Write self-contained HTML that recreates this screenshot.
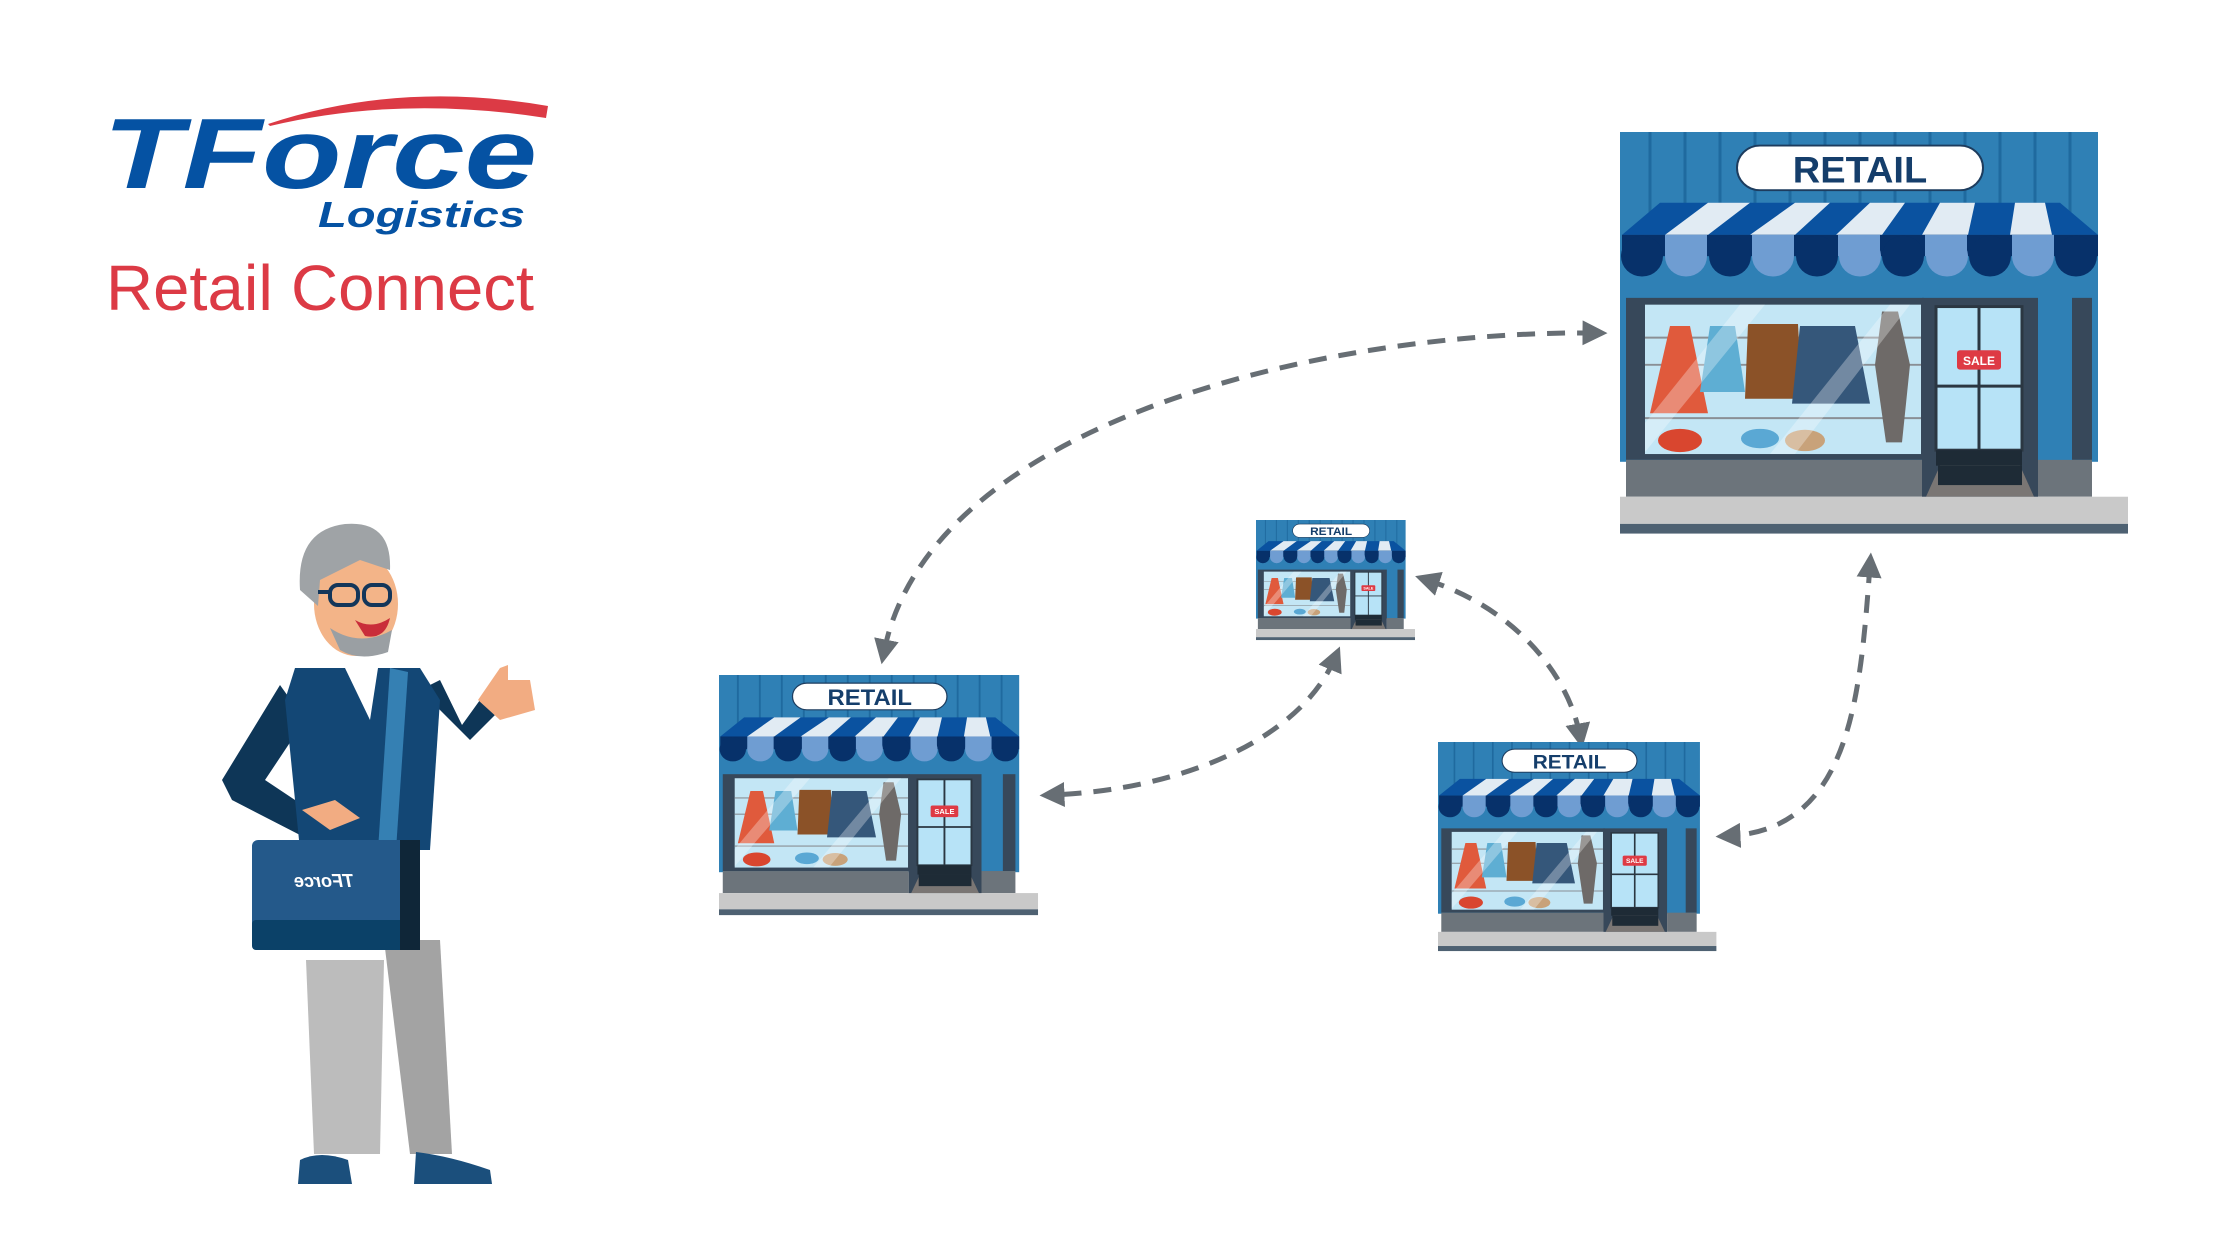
<!DOCTYPE html>
<html><head><meta charset="utf-8"><style>html,body{margin:0;padding:0;background:#fff}svg{display:block}</style></head>
<body>
<svg width="2240" height="1260" viewBox="0 0 2240 1260" xmlns="http://www.w3.org/2000/svg">
<defs>
<marker id="ah" viewBox="0 0 10 10" refX="5" refY="5" markerWidth="5" markerHeight="5" orient="auto-start-reverse" markerUnits="strokeWidth">
<path d="M0,0 L10,5 L0,10 Z" fill="#676e74"/></marker>
<g id="store">
<rect x="0" y="0" width="478" height="340" fill="#2f80b5"/>
<g stroke="#1f6a9f" stroke-width="3"><line x1="30" y1="0" x2="30" y2="100"/><line x1="65" y1="0" x2="65" y2="100"/><line x1="100" y1="0" x2="100" y2="100"/><line x1="135" y1="0" x2="135" y2="100"/><line x1="170" y1="0" x2="170" y2="100"/><line x1="205" y1="0" x2="205" y2="100"/><line x1="240" y1="0" x2="240" y2="100"/><line x1="275" y1="0" x2="275" y2="100"/><line x1="310" y1="0" x2="310" y2="100"/><line x1="345" y1="0" x2="345" y2="100"/><line x1="380" y1="0" x2="380" y2="100"/><line x1="415" y1="0" x2="415" y2="100"/><line x1="450" y1="0" x2="450" y2="100"/></g>
<rect x="117" y="14" width="246" height="46" rx="23" fill="#fff" stroke="#1d3c5e" stroke-width="2"/>
<path d="M40,73 L440,73 L478,106 L2,106 Z" fill="#0a52a0"/>
<path d="M88,73 L130,73 L88,106 L45,106Z M175,73 L210,73 L175,106 L130,106Z M250,73 L285,73 L262,106 L216,106Z M320,73 L355,73 L348,106 L302,106Z M395,73 L425,73 L432,106 L390,106Z" fill="#e1ebf3"/>
<rect x="2" y="106" width="476" height="22" fill="#07316a"/>
<g fill="#07316a"><circle cx="22" cy="128" r="21"/><circle cx="110" cy="128" r="21"/><circle cx="197" cy="128" r="21"/><circle cx="283" cy="128" r="21"/><circle cx="370" cy="128" r="21"/><circle cx="456" cy="128" r="21"/></g>
<g fill="#6f9dd2"><rect x="45" y="106" width="42" height="22"/><circle cx="66" cy="128" r="21"/><rect x="132" y="106" width="42" height="22"/><circle cx="153" cy="128" r="21"/><rect x="218" y="106" width="42" height="22"/><circle cx="240" cy="128" r="21"/><rect x="305" y="106" width="42" height="22"/><circle cx="327" cy="128" r="21"/><rect x="392" y="106" width="42" height="22"/><circle cx="413" cy="128" r="21"/></g>
<rect x="6" y="171" width="298" height="167" fill="#37485a"/>
<rect x="25" y="178" width="276" height="154" fill="#c3e6f5"/>
<g stroke="#8a8f95" stroke-width="2"><line x1="25" y1="212" x2="301" y2="212"/><line x1="25" y1="240" x2="301" y2="240"/><line x1="25" y1="295" x2="301" y2="295"/></g>
<path d="M50,200 L70,200 L88,290 L30,290Z" fill="#e05a3c"/>
<path d="M90,200 L115,200 L125,268 L80,268Z" fill="#5eaed3"/>
<path d="M128,198 L178,198 L182,275 L125,275Z" fill="#8b5228"/>
<path d="M180,200 L235,200 L250,280 L172,280Z" fill="#35577a"/>
<path d="M262,185 L278,185 L290,240 L282,320 L266,320 L255,240Z" fill="#6e6a68"/>
<ellipse cx="60" cy="318" rx="22" ry="12" fill="#d9462f"/><ellipse cx="140" cy="316" rx="19" ry="10" fill="#5aa8d4"/><ellipse cx="185" cy="318" rx="20" ry="11" fill="#c8a27a"/>
<path d="M25,300 L120,178 L145,178 L25,330Z M150,332 L270,178 L290,178 L175,332Z" fill="#fff" opacity="0.3"/>
<rect x="302" y="171" width="116" height="219" fill="#37485a"/>
<rect x="316" y="180" width="86" height="148" fill="#b7e3f7" stroke="#2b3742" stroke-width="3"/>
<line x1="359" y1="180" x2="359" y2="328" stroke="#2b3742" stroke-width="3"/>
<line x1="316" y1="262" x2="402" y2="262" stroke="#2b3742" stroke-width="3"/>
<rect x="337" y="225" width="44" height="20" rx="3" fill="#de3a44"/>
<rect x="316" y="328" width="86" height="16" fill="#1e2b36"/>
<rect x="452" y="171" width="20" height="167" fill="#37485a"/>
<rect x="6" y="338" width="296" height="38" fill="#6c747b"/><rect x="418" y="338" width="54" height="38" fill="#6c747b"/>
<path d="M320,344 L400,344 L414,376 L306,376Z" fill="#7a7674"/><rect x="318" y="344" width="84" height="20" fill="#1e2b36"/>
<rect x="0" y="376" width="508" height="28" fill="#c9c9c9"/>
<rect x="0" y="404" width="508" height="10" fill="#4e6172"/>
</g>
</defs>
<rect width="2240" height="1260" fill="#fff"/>

<path d="M268,124 Q400,80 548,106 L546,118 Q400,95 270,126 Z" fill="#dc3a45"/>
<text x="103" y="188" font-family="Liberation Sans, sans-serif" font-weight="bold" font-style="italic" font-size="100" fill="#0552a3" textLength="434" lengthAdjust="spacingAndGlyphs">TForce</text>
<text x="318" y="227" font-family="Liberation Sans, sans-serif" font-weight="bold" font-style="italic" font-size="36" fill="#0552a3" textLength="207" lengthAdjust="spacingAndGlyphs">Logistics</text>
<text x="106" y="310" font-family="Liberation Sans, sans-serif" font-size="64" fill="#dc3a45" textLength="428" lengthAdjust="spacingAndGlyphs">Retail Connect</text>

<g fill="none" stroke="#676e74" stroke-width="5" stroke-dasharray="18 12" marker-start="url(#ah)" marker-end="url(#ah)">
<path d="M1595,333 C1330,330 930,420 884,652"/>
<path d="M1335,658 C1300,740 1180,790 1052,795"/>
<path d="M1427,580 C1520,610 1570,680 1580,736"/>
<path d="M1870,565 C1860,700 1850,830 1728,836"/>
</g>

<g transform="translate(1620,132) scale(1,0.97)">
<use href="#store"/>
<text x="240" y="52" text-anchor="middle" font-family="Liberation Sans, sans-serif" font-weight="bold" font-size="38" fill="#153e6b">RETAIL</text>
<text x="359" y="240" text-anchor="middle" font-family="Liberation Sans, sans-serif" font-weight="bold" font-size="12" fill="#fff">SALE</text>
</g>
<g transform="translate(719,675) scale(0.628,0.58)">
<use href="#store"/>
<text x="240" y="52" text-anchor="middle" font-family="Liberation Sans, sans-serif" font-weight="bold" font-size="38" fill="#153e6b">RETAIL</text>
<text x="359" y="240" text-anchor="middle" font-family="Liberation Sans, sans-serif" font-weight="bold" font-size="12" fill="#fff">SALE</text>
</g>
<g transform="translate(1256,520) scale(0.313,0.29)">
<use href="#store"/>
<text x="240" y="52" text-anchor="middle" font-family="Liberation Sans, sans-serif" font-weight="bold" font-size="38" fill="#153e6b">RETAIL</text>
<text x="359" y="240" text-anchor="middle" font-family="Liberation Sans, sans-serif" font-weight="bold" font-size="12" fill="#fff">SALE</text>
</g>
<g transform="translate(1438,742) scale(0.548,0.505)">
<use href="#store"/>
<text x="240" y="52" text-anchor="middle" font-family="Liberation Sans, sans-serif" font-weight="bold" font-size="38" fill="#153e6b">RETAIL</text>
<text x="359" y="240" text-anchor="middle" font-family="Liberation Sans, sans-serif" font-weight="bold" font-size="12" fill="#fff">SALE</text>
</g>

<g>
<path d="M306,960 L384,960 L380,1154 L314,1154Z" fill="#bcbcbc"/>
<path d="M384,940 L440,940 L452,1154 L410,1154Z" fill="#a3a3a3"/>
<path d="M300,1160 Q320,1150 348,1160 L352,1184 L298,1184Z" fill="#1b4f7c"/>
<path d="M416,1152 Q450,1156 490,1170 L492,1184 L414,1184Z" fill="#1b4f7c"/>
<path d="M280,685 L222,780 L232,800 L300,835 L310,810 L265,780 L305,720Z" fill="#0e3657"/>
<path d="M420,690 L470,740 L500,710 L480,700 L462,725 L440,680Z" fill="#0e3657"/>
<path d="M478,700 L500,668 L508,665 L508,680 L530,680 L535,710 L500,720Z" fill="#f2ac82"/>
<path d="M295,668 L420,668 L440,700 L430,850 L300,850 L285,700Z" fill="#134775"/>
<path d="M345,668 L378,668 L370,720Z" fill="#fff"/>
<path d="M390,668 L408,672 L396,850 L378,850Z" fill="#3580b3"/>
<path d="M302,810 L335,800 L360,818 L330,830Z" fill="#f2ac82"/>
<rect x="252" y="840" width="168" height="110" rx="6" fill="#24598a"/>
<rect x="252" y="920" width="168" height="30" rx="4" fill="#0b4168"/>
<rect x="400" y="840" width="20" height="110" fill="#0f2638"/>
<text x="324" y="887" text-anchor="middle" font-family="Liberation Sans, sans-serif" font-weight="bold" font-style="italic" font-size="18" fill="#fff" transform="scale(-1,1) translate(-648,0)">TForce</text>
<ellipse cx="356" cy="604" rx="42" ry="52" fill="#f3b488"/>
<path d="M300,590 Q296,530 345,524 Q392,520 390,570 L360,560 L320,580 L318,606Z" fill="#9fa3a6"/>
<path d="M330,628 Q360,648 392,630 L388,652 Q360,662 340,650Z" fill="#9a9fa3"/>
<path d="M355,620 Q372,630 390,618 Q385,640 365,636Z" fill="#c92d3a"/>
<g fill="none" stroke="#13365a" stroke-width="4"><rect x="330" y="585" width="28" height="20" rx="8"/><rect x="364" y="585" width="26" height="20" rx="8"/><line x1="318" y1="592" x2="330" y2="592"/></g>
</g>
</svg>
</body></html>
